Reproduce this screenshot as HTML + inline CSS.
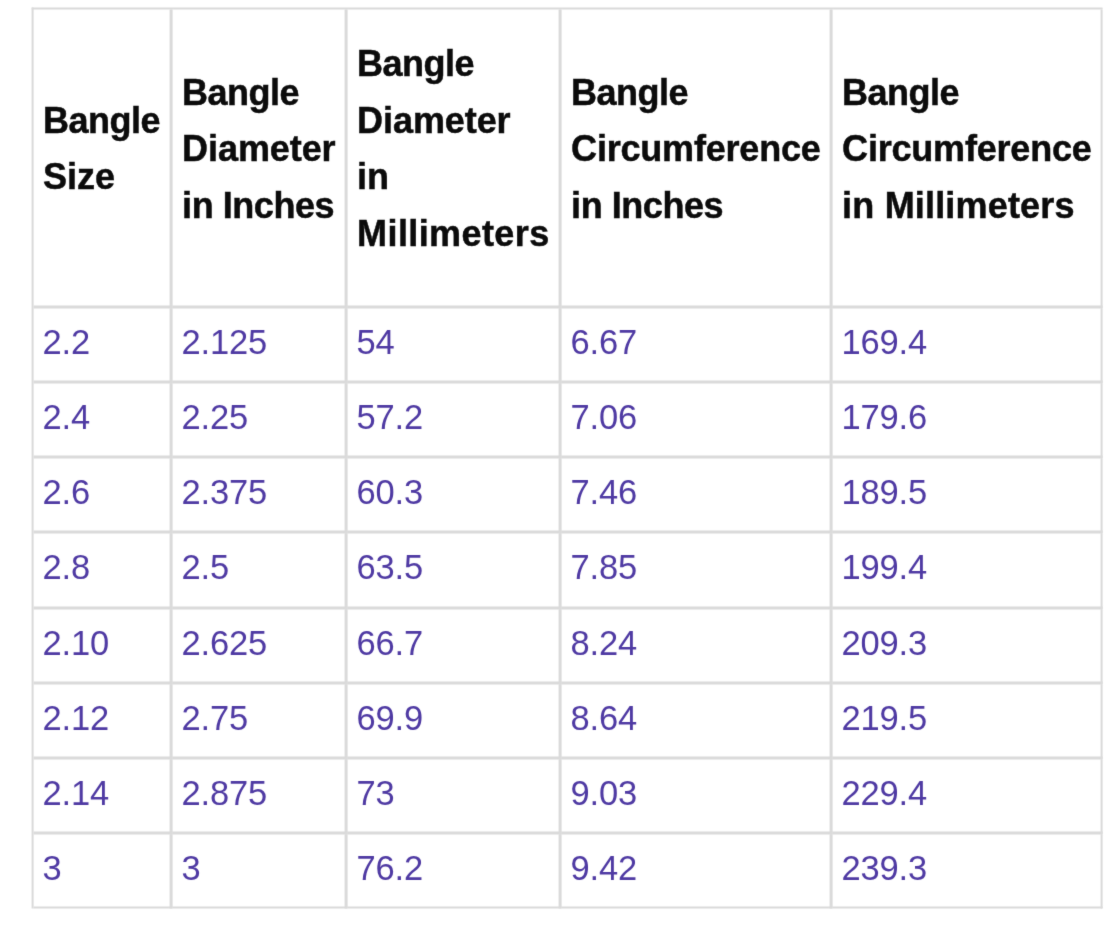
<!DOCTYPE html>
<html lang="en">
<head>
<meta charset="utf-8">
<title>Bangle Size Chart</title>
<style>
  html, body {
    margin: 0;
    padding: 0;
    background: #ffffff;
  }
  body {
    width: 1104px;
    height: 926px;
    overflow: hidden;
    position: relative;
    font-family: "Liberation Sans", sans-serif;
  }
  table.chart {
    position: absolute;
    left: 31px;
    top: 7px;
    width: 1071px;
    table-layout: fixed;
    border-collapse: separate;
    border-spacing: 0;
    border-left: 2px solid #dadada;
    border-top: 2px solid #dadada;
    font-size: 36px;
    line-height: 56.5px;
    transform: translate(0.6px, 0.5px);
    filter: url(#soft);
  }
  table.chart th,
  table.chart td {
    box-sizing: border-box;
    border-right: 3px solid #dadada;
    border-bottom: 3px solid #dadada;
    text-align: left;
    white-space: nowrap;
    overflow: hidden;
  }
  table.chart th:last-child,
  table.chart td:last-child { border-right-width: 2px; }
  table.chart tbody tr:nth-child(4) td { height: 76px; }
  table.chart tbody tr:last-child td { border-bottom-width: 2px; height: 74px; }
  table.chart th {
    height: 299px;
    vertical-align: middle;
    font-weight: bold;
    color: #0b0b0b;
    -webkit-text-stroke: 0.5px #0b0b0b;
    padding: 0 0 17.4px 9.5px;
  }
  table.chart th span { display: block; }
  table.chart td {
    height: 75px;
    vertical-align: top;
    color: #4f3aa3;
    font-size: 34.5px;
    padding: 4.5px 0 0 9px;
    letter-spacing: -0.2px;
  }
  /* per-word tracking so Liberation Sans matches the reference widths */
  .w-bangle { letter-spacing: -0.5px; }
  .w-size { letter-spacing: 0; }
  .w-diam { letter-spacing: -0.08px; }
  .w-inin { letter-spacing: -0.45px; }
  .w-in { letter-spacing: 0; }
  .w-mm { letter-spacing: 0.4px; }
  .w-circ { letter-spacing: -0.2px; }
  .w-inmm { letter-spacing: 0.18px; }
</style>
</head>
<body>
<svg width="0" height="0" style="position:absolute" aria-hidden="true"><defs><filter id="soft" x="-1%" y="-1%" width="102%" height="102%" color-interpolation-filters="sRGB"><feConvolveMatrix order="3" kernelMatrix="1 8 1 8 64 8 1 8 1" divisor="100" edgeMode="none" preserveAlpha="false"/></filter></defs></svg>
<table class="chart">
  <colgroup>
    <col style="width:139px">
    <col style="width:175px">
    <col style="width:214px">
    <col style="width:271px">
    <col style="width:270px">
  </colgroup>
  <thead>
    <tr>
      <th><span class="w-bangle">Bangle</span> <span class="w-size">Size</span></th>
      <th><span class="w-bangle">Bangle</span> <span class="w-diam">Diameter</span> <span class="w-inin">in Inches</span></th>
      <th><span class="w-bangle">Bangle</span> <span class="w-diam">Diameter</span> <span class="w-in">in</span> <span class="w-mm">Millimeters</span></th>
      <th><span class="w-bangle">Bangle</span> <span class="w-circ">Circumference</span> <span class="w-inin">in Inches</span></th>
      <th><span class="w-bangle">Bangle</span> <span class="w-circ">Circumference</span> <span class="w-inmm">in Millimeters</span></th>
    </tr>
  </thead>
  <tbody>
    <tr><td>2.2</td><td>2.125</td><td>54</td><td>6.67</td><td>169.4</td></tr>
    <tr><td>2.4</td><td>2.25</td><td>57.2</td><td>7.06</td><td>179.6</td></tr>
    <tr><td>2.6</td><td>2.375</td><td>60.3</td><td>7.46</td><td>189.5</td></tr>
    <tr><td>2.8</td><td>2.5</td><td>63.5</td><td>7.85</td><td>199.4</td></tr>
    <tr><td>2.10</td><td>2.625</td><td>66.7</td><td>8.24</td><td>209.3</td></tr>
    <tr><td>2.12</td><td>2.75</td><td>69.9</td><td>8.64</td><td>219.5</td></tr>
    <tr><td>2.14</td><td>2.875</td><td>73</td><td>9.03</td><td>229.4</td></tr>
    <tr><td>3</td><td>3</td><td>76.2</td><td>9.42</td><td>239.3</td></tr>
  </tbody>
</table>
</body>
</html>
